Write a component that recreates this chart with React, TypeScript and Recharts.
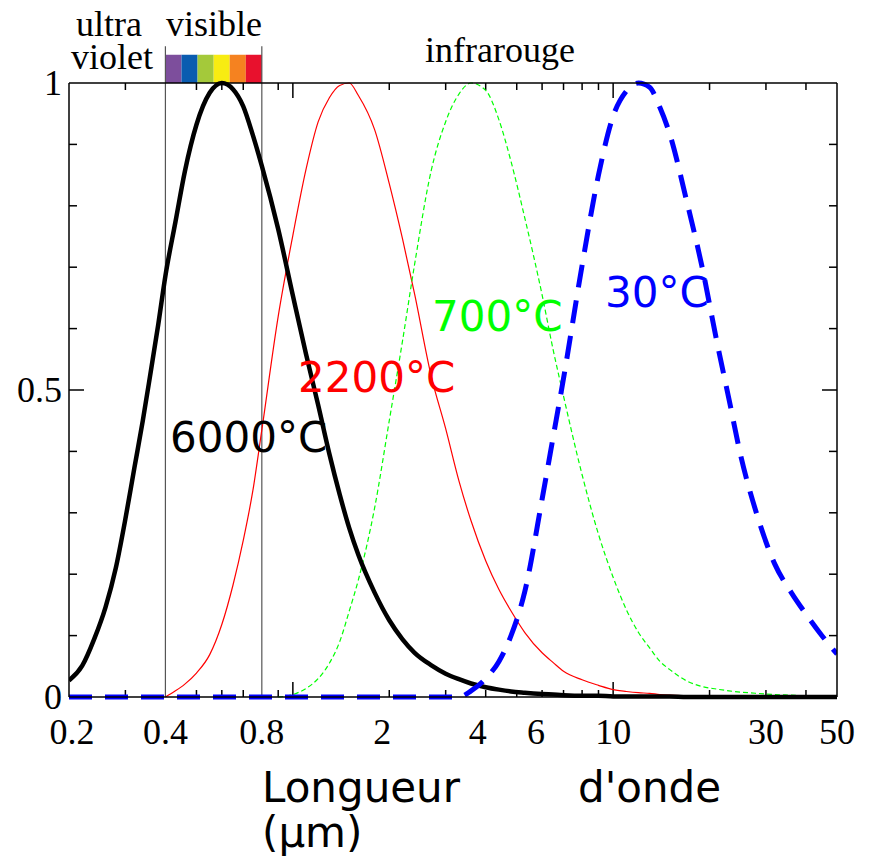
import React from 'react';
import { LineChart, Line, XAxis, YAxis, ReferenceLine, ReferenceArea } from 'recharts';

// wavelength grid (µm) and normalised spectral curves
const wavelengths = [
  0.2, 0.22, 0.24, 0.26, 0.28, 0.3, 0.32, 0.34, 0.36, 0.38,
  0.4, 0.43, 0.46, 0.5, 0.55, 0.6, 0.65, 0.7, 0.75, 0.8,
  0.9, 1.0, 1.1, 1.2, 1.3, 1.4, 1.5, 1.6, 1.8, 2.0,
  2.2, 2.4, 2.7, 3.0, 3.3, 3.6, 4.0, 4.4, 4.8, 5.3,
  6, 6.5, 7, 8, 9, 10, 11, 12, 13, 14,
  15, 17, 19, 21, 23, 25, 28, 32, 36, 40,
  45, 50,
];

const sun6000 = [
  0.027, 0.051, 0.095, 0.146, 0.21, 0.29, 0.373, 0.45, 0.53, 0.607,
  0.686, 0.774, 0.856, 0.932, 0.984, 1.0, 0.99, 0.962, 0.915, 0.865,
  0.762, 0.654, 0.558, 0.475, 0.396, 0.33, 0.275, 0.232, 0.17, 0.125,
  0.094, 0.072, 0.052, 0.038, 0.029, 0.022, 0.016, 0.012, 0.009, 0.007,
  0.005, 0.004, 0.003, 0.002, 0.002, 0.001, 0.001, 0.001, 0.001, 0.001,
  0.001, 0, 0, 0, 0, 0, 0, 0, 0, 0,
  0, 0,
];

const lamp2200 = [
  null, null, null, null, null, null, null, null, null, null,
  0.0, 0.01, 0.021, 0.039, 0.069, 0.118, 0.182, 0.255, 0.336, 0.435,
  0.62, 0.752, 0.86, 0.937, 0.976, 0.996, 1.0, 0.98, 0.924, 0.836,
  0.746, 0.656, 0.524, 0.437, 0.352, 0.287, 0.222, 0.175, 0.14, 0.105,
  0.072, 0.056, 0.042, 0.028, 0.019, 0.012, 0.009, 0.007, 0.006, 0.004,
  0.003, 0.002, 0.001, 0.001, 0, 0, 0, 0, 0, 0,
  0, 0,
];

const glow700 = [
  null, null, null, null, null, null, null, null, null, null,
  null, null, null, null, null, null, null, null, null, null,
  0.0, 0.004, 0.014, 0.03, 0.055, 0.09, 0.14, 0.19, 0.308, 0.45,
  0.58, 0.705, 0.856, 0.937, 0.982, 1.0, 0.988, 0.94, 0.872, 0.78,
  0.655, 0.565, 0.49, 0.362, 0.265, 0.195, 0.142, 0.105, 0.08, 0.058,
  0.045, 0.026, 0.017, 0.013, 0.01, 0.008, 0.006, 0.004, 0.003, 0.002,
  0.002, 0.001,
];

const room30 = [
  0, 0, 0, 0, 0, 0, 0, 0, 0, 0,
  0, 0, 0, 0, 0, 0, 0, 0, 0, 0,
  0, 0, 0, 0, 0, 0, 0, 0, 0, 0,
  0, 0, 0, 0, 0, 0.01, 0.03, 0.058, 0.1, 0.172,
  0.322, 0.424, 0.519, 0.703, 0.85, 0.946, 0.987, 1.0, 0.993, 0.96,
  0.918, 0.806, 0.698, 0.583, 0.485, 0.394, 0.3, 0.216, 0.17, 0.135,
  0.099, 0.07,
];

const xTicks = [0.2, 0.4, 0.8, 2, 4, 6, 10, 30, 50];
const xMinorTicks = [0.3, 0.5, 0.6, 0.7, 0.9, 2, 3, 4, 5, 6, 7, 8, 9, 20, 30, 40];
const xMajorTicks = [1, 10];
const yTicks = [0, 0.5, 1];
const yMinorTicks = [0.1, 0.2, 0.3, 0.4, 0.6, 0.7, 0.8, 0.9];
const yMajorTicks = [0.5];

const visibleLimits = [0.4, 0.8];
const spectrumEdges = [0.4, 0.449, 0.504, 0.566, 0.635, 0.713, 0.8];
const spectrumColors = ['#7d4e9c', '#0a5cb0', '#a4c93a', '#f8ec12', '#f58220', '#e8112d'];

const rows = wavelengths.map((w, i) => ({
  w,
  sun: sun6000[i],
  lamp: lamp2200[i],
  glow: glow700[i],
  room: room30[i],
}));

const SERIF = '"Liberation Serif", "Times New Roman", serif';
const SANS = '"DejaVu Sans", sans-serif';

const X_MIN = 0.2;
const X_MAX = 50;
const PLOT_W = 768;
const PLOT_H = 614;
const DECADES = Math.log10(X_MAX / X_MIN);

// inward tick marks: pixel length turned into axis units
const tickUp = (px: number) => px / PLOT_H;
const tickRatio = (px: number) => Math.pow(10, (px * DECADES) / PLOT_W);

// small nudges of the printed labels, as in the original figure
const labelNudge: Record<number, number> = { 0.2: 3, 2: -7, 4: -8, 6: -6 };

const BottomLabel = (props: any) => {
  const { x, y, payload } = props;
  const v = payload.value;
  return (
    <text x={x + (labelNudge[v] ?? 0)} y={y + 47} textAnchor="middle" fontFamily={SERIF} fontSize={36} fill="#000">
      {v}
    </text>
  );
};

const LeftLabel = (props: any) => {
  const { x, y, payload } = props;
  return (
    <text x={x - 7} y={y + 12} textAnchor="end" fontFamily={SERIF} fontSize={36} fill="#000">
      {payload.value}
    </text>
  );
};

const App: React.FC = () => {
  const axisLine = { stroke: '#000', strokeWidth: 1.5 };
  const tickStroke = { stroke: '#000', strokeWidth: 1.5, ifOverflow: 'visible' as const };

  const xTickMarks = [
    ...xMinorTicks.map((v) => ({ v, len: 7 })),
    ...xMajorTicks.map((v) => ({ v, len: 15 })),
  ];
  const yTickMarks = [
    ...yMinorTicks.map((v) => ({ v, len: 8 })),
    ...yMajorTicks.map((v) => ({ v, len: 15 })),
  ];

  return (
    <div style={{ position: 'absolute', left: 0, top: 0, width: 874, height: 857, background: '#fff' }}>
      <LineChart width={874} height={857} data={rows} margin={{ top: 82, right: 36, bottom: 100, left: 9 }}>
        <XAxis
          dataKey="w"
          type="number"
          scale="log"
          domain={[X_MIN, X_MAX]}
          allowDataOverflow
          ticks={xTicks}
          interval={0}
          height={60}
          tickSize={0}
          tickMargin={0}
          tickLine={false}
          axisLine={axisLine}
          tick={<BottomLabel />}
        />
        <XAxis
          xAxisId="top"
          orientation="top"
          dataKey="w"
          type="number"
          scale="log"
          domain={[X_MIN, X_MAX]}
          allowDataOverflow
          height={1}
          tickLine={false}
          axisLine={axisLine}
          tick={false}
        />
        <YAxis
          type="number"
          domain={[0, 1]}
          ticks={yTicks}
          interval={0}
          width={60}
          tickSize={0}
          tickMargin={0}
          tickLine={false}
          axisLine={axisLine}
          tick={<LeftLabel />}
        />
        <YAxis
          yAxisId="right"
          orientation="right"
          type="number"
          domain={[0, 1]}
          width={1}
          tickLine={false}
          axisLine={axisLine}
          tick={false}
        />

        {spectrumColors.map((c, i) => (
          <ReferenceArea
            key={c}
            x1={spectrumEdges[i]}
            x2={spectrumEdges[i + 1]}
            y1={1}
            y2={1.046}
            fill={c}
            fillOpacity={1}
            stroke="none"
            ifOverflow="visible"
          />
        ))}

        {xTickMarks.map(({ v, len }) => (
          <ReferenceLine key={`b${v}`} segment={[{ x: v, y: 0 }, { x: v, y: tickUp(len) }]} {...tickStroke} />
        ))}
        {xTickMarks.map(({ v, len }) => (
          <ReferenceLine key={`t${v}`} segment={[{ x: v, y: 1 }, { x: v, y: 1 - tickUp(len) }]} {...tickStroke} />
        ))}
        {yTickMarks.map(({ v, len }) => (
          <ReferenceLine key={`l${v}`} segment={[{ x: X_MIN, y: v }, { x: X_MIN * tickRatio(len), y: v }]} {...tickStroke} />
        ))}
        {yTickMarks.map(({ v, len }) => (
          <ReferenceLine key={`r${v}`} segment={[{ x: X_MAX, y: v }, { x: X_MAX / tickRatio(len), y: v }]} {...tickStroke} />
        ))}

        {visibleLimits.map((v) => (
          <ReferenceLine
            key={v}
            segment={[{ x: v, y: 0 }, { x: v, y: 1.06 }]}
            stroke="#555"
            strokeWidth={1.2}
            ifOverflow="visible"
          />
        ))}

        <Line dataKey="lamp" type="monotone" stroke="#ff0000" strokeWidth={1.2} dot={false} isAnimationActive={false} />
        <Line dataKey="glow" type="monotone" stroke="#00ff00" strokeWidth={1.2} strokeDasharray="5 3" dot={false} isAnimationActive={false} />
        <Line dataKey="sun" type="monotone" stroke="#000" strokeWidth={4.5} dot={false} isAnimationActive={false} />
        <Line dataKey="room" type="monotone" stroke="#0000ff" strokeWidth={5} strokeDasharray="23 13" dot={false} isAnimationActive={false} />
      </LineChart>

      <svg width={874} height={857} style={{ position: 'absolute', left: 0, top: 0, pointerEvents: 'none' }}>
        <g fontFamily={SERIF} fontSize={36} fill="#000">
          <text x={76} y={36}>ultra</text>
          <text x={71} y={69}>violet</text>
          <text x={166} y={36}>visible</text>
          <text x={425} y={62}>infrarouge</text>
        </g>
        <g fontFamily={SANS} fontSize={42}>
          <text x={170} y={452} fill="#000">6000°C</text>
          <text x={298} y={392} fill="#ff0000">2200°C</text>
          <text x={432} y={331} fill="#00ff00">700°C</text>
          <text x={605} y={307} fill="#0000ff">30°C</text>
          <text x={262} y={802} fill="#000">Longueur</text>
          <text x={578} y={802} fill="#000">d'onde</text>
          <text x={262} y={847} fill="#000">(µm)</text>
        </g>
      </svg>
    </div>
  );
};

export default App;
